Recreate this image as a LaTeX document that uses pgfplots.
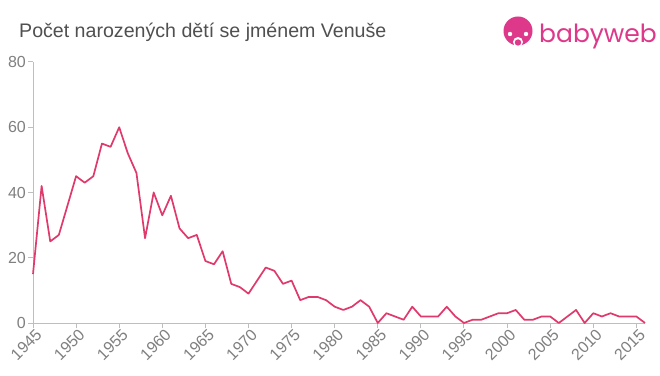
\documentclass[border=0pt]{standalone}
\usepackage{pgfplots}
\pgfplotsset{compat=1.18}
\usepackage{fontspec}
\setmainfont{Liberation Sans}
\newfontfamily\logofont{Poppins}
\definecolor{linepink}{RGB}{224,58,108}
\definecolor{logopink}{RGB}{222,56,138}
\definecolor{axisgrey}{RGB}{190,190,190}
\definecolor{ticktext}{RGB}{128,128,128}
\definecolor{titlegrey}{RGB}{80,80,80}
\begin{document}
\begin{tikzpicture}[x=1pt,y=1pt]
\useasboundingbox[fill=white] (0,0) rectangle (660,375);
\node[anchor=base west,inner sep=0pt,text=titlegrey,font=\fontsize{19.6}{22}\selectfont] at (19,337.5) {Počet narozených dětí se jménem Venuše};
% logo
\fill[logopink] (518,344) circle (14.5);
\fill[white] (518,333) circle (5);
\fill[logopink] (518,332.5) circle (3.2);
\fill[white] (510,341) circle (2.2);
\fill[white] (526,341) circle (2.2);
\node[anchor=base west,inner sep=0pt,text=logopink,font=\logofont\fontsize{25}{28}\selectfont] at (539,332) {babyweb};
\begin{axis}[
  at={(33pt,52pt)}, anchor=south west,
  scale only axis, width=612pt, height=261pt,
  xmin=1945, xmax=2016, ymin=0, ymax=80,
  axis lines*=left,
  axis line style={axisgrey, line width=1pt},
  x axis line style={-}, y axis line style={-},
  xtick={1945,1950,...,2015},
  ytick={0,20,...,80},
  tick style={axisgrey, line width=1pt},
  tick align=outside,
  major tick length=5pt,
  xticklabel style={rotate=45, anchor=north east, text=ticktext, font=\fontsize{16}{18}\selectfont, inner sep=1pt, xshift=2.5pt},
  yticklabel style={text=ticktext, font=\fontsize{16}{18}\selectfont, inner sep=2pt},
  /pgf/number format/assume math mode=true,
  /pgf/number format/1000 sep={},
  clip=false,
]
\addplot[linepink, line width=1.7pt, line join=round, mark=none] coordinates {
(1945,15)(1946,42)(1947,25)(1948,27)(1949,36)(1950,45)(1951,43)(1952,45)(1953,55)(1954,54)
(1955,60)(1956,52)(1957,46)(1958,26)(1959,40)(1960,33)(1961,39)(1962,29)(1963,26)(1964,27)
(1965,19)(1966,18)(1967,22)(1968,12)(1969,11)(1970,9)(1971,13)(1972,17)(1973,16)(1974,12)
(1975,13)(1976,7)(1977,8)(1978,8)(1979,7)(1980,5)(1981,4)(1982,5)(1983,7)(1984,5)
(1985,0)(1986,3)(1987,2)(1988,1)(1989,5)(1990,2)(1991,2)(1992,2)(1993,5)(1994,2)
(1995,0)(1996,1)(1997,1)(1998,2)(1999,3)(2000,3)(2001,4)(2002,1)(2003,1)(2004,2)
(2005,2)(2006,0)(2007,2)(2008,4)(2009,0)(2010,3)(2011,2)(2012,3)(2013,2)(2014,2)
(2015,2)(2016,0)
};
\end{axis}
\end{tikzpicture}
\end{document}
